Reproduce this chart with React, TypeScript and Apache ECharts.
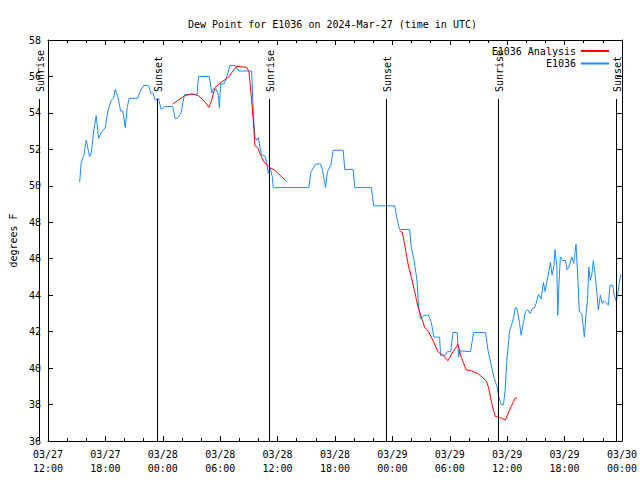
import React, { useEffect, useRef } from "react";
import * as echarts from "echarts";

// hours since 2024-03-27 12:00 UTC
const obsHours = [3.31, 3.47, 3.73, 4.0, 4.35, 4.52, 4.77, 5.04, 5.29, 5.56, 5.98, 6.26, 6.61, 6.86, 7.02, 7.3, 7.59, 7.83, 8.07, 8.28, 8.48, 9.39, 9.57, 9.99, 10.51, 10.78, 10.96, 11.2, 11.55, 11.82, 12.24, 13.04, 13.28, 13.53, 13.91, 14.26, 15.58, 15.73, 16.87, 17.11, 17.29, 17.6, 17.81, 17.92, 18.05, 18.44, 18.68, 19.02, 19.55, 19.96, 20.94, 21.29, 21.46, 21.63, 21.81, 21.99, 22.09, 22.33, 22.68, 22.85, 23.03, 23.2, 23.45, 23.55, 27.27, 27.48, 28.0, 28.49, 28.7, 29.01, 29.22, 29.56, 29.81, 30.86, 31.02, 31.9, 32.07, 33.81, 34.05, 36.24, 36.52, 36.76, 37.81, 37.98, 38.27, 38.58, 38.74, 38.95, 39.31, 39.79, 40.07, 40.35, 40.94, 41.04, 41.53, 41.74, 42.09, 42.34, 42.78, 42.92, 43.07, 44.17, 44.49, 45.74, 45.99, 46.23, 46.61, 46.96, 47.13, 47.38, 47.62, 47.79, 47.97, 48.24, 48.42, 48.7, 48.84, 49.02, 49.29, 49.46, 49.74, 49.91, 50.16, 50.4, 50.68, 50.85, 51.03, 51.27, 51.55, 51.79, 51.97, 52.14, 52.35, 52.52, 52.7, 52.88, 53.01, 53.19, 53.29, 53.4, 53.56, 53.81, 54.09, 54.26, 54.5, 54.75, 54.96, 55.2, 55.38, 55.55, 55.8, 56.07, 56.25, 56.42, 56.53, 56.69, 56.87, 57.01, 57.18, 57.39, 57.53, 57.74, 57.92, 58.16, 58.33, 58.58, 58.75, 59.03, 59.2, 59.38, 59.55, 59.72, 59.9];
const obsValues = [50.2, 51.3, 51.6, 52.5, 51.6, 51.8, 53.0, 53.85, 52.6, 52.9, 53.2, 54.1, 54.7, 54.8, 55.3, 54.9, 54.1, 54.1, 53.2, 54.3, 54.8, 54.8, 55.1, 55.5, 55.5, 55.05, 55.1, 54.7, 54.8, 54.2, 54.35, 54.35, 53.7, 53.7, 54.0, 55.0, 55.0, 56.0, 56.0, 55.1, 55.3, 55.3, 54.95, 54.3, 55.6, 55.6, 56.0, 56.6, 56.6, 56.3, 56.3, 56.3, 54.0, 52.7, 52.5, 52.65, 52.3, 51.7, 51.65, 51.3, 50.7, 51.0, 50.5, 49.9, 49.9, 50.75, 51.2, 51.2, 50.85, 49.9, 50.8, 51.1, 51.95, 51.95, 50.9, 50.9, 49.9, 49.9, 48.9, 48.9, 48.1, 47.6, 47.6, 46.65, 45.9, 44.8, 43.35, 42.7, 42.9, 42.9, 42.5, 41.7, 41.7, 40.7, 40.7, 40.9, 40.9, 41.95, 41.95, 40.6, 40.95, 40.9, 41.95, 41.95, 41.0, 40.4, 39.5, 38.95, 38.4, 38.0, 38.0, 38.8, 40.4, 42.0, 42.3, 42.8, 43.3, 43.3, 42.5, 41.8, 42.6, 43.1, 43.2, 43.0, 43.3, 43.3, 43.55, 44.05, 43.8, 44.7, 44.2, 44.7, 45.3, 45.8, 45.1, 45.6, 46.5, 45.6, 42.9, 44.45, 46.1, 45.9, 45.9, 45.4, 45.6, 46.1, 45.75, 46.8, 45.0, 43.1, 43.0, 41.7, 43.0, 43.9, 45.55, 44.8, 45.2, 45.9, 45.2, 44.1, 43.2, 44.0, 43.55, 43.7, 43.6, 43.45, 44.55, 44.55, 44.0, 43.7, 44.0, 44.7, 45.15];

const anaHours1 = [13.04, 13.64, 14.33, 15.03, 15.73, 16.41, 16.83, 17.11, 17.46, 18.16, 18.86, 19.2, 19.72, 20.77, 21.01, 21.29, 21.46, 21.63, 21.91, 22.26, 22.61, 23.03, 23.72, 24.42, 24.94];
const anaValues1 = [54.5, 54.7, 54.95, 55.05, 54.95, 54.6, 54.3, 54.7, 55.4, 55.7, 55.95, 56.2, 56.55, 56.5, 56.25, 54.7, 53.6, 52.2, 52.1, 51.65, 51.3, 51.05, 50.85, 50.5, 50.25];
const anaHours2 = [36.76, 37.04, 37.28, 37.64, 37.98, 38.33, 38.68, 39.03, 39.37, 39.79, 40.25, 40.77, 41.29, 41.81, 42.34, 42.86, 43.2, 43.72, 44.24, 44.94, 45.81, 46.05, 46.4, 46.75, 47.2, 47.82, 48.24, 48.84, 49.05];
const anaValues2 = [47.5, 47.45, 46.8, 45.7, 45.0, 44.2, 43.35, 42.8, 42.25, 42.0, 41.5, 40.9, 40.7, 40.4, 40.9, 41.3, 40.6, 39.9, 39.85, 39.7, 39.3, 38.95, 38.05, 37.35, 37.3, 37.15, 37.7, 38.35, 38.35];

const sunHours = [-0.94, 11.37, 23.06, 35.37, 47.06, 59.4];
const sunLabels = ["Sunrise", "Sunset", "Sunrise", "Sunset", "Sunrise", "Sunset"];

const tickLabels = ["03/27\n12:00", "03/27\n18:00", "03/28\n00:00", "03/28\n06:00", "03/28\n12:00", "03/28\n18:00", "03/29\n00:00", "03/29\n06:00", "03/29\n12:00", "03/29\n18:00", "03/30\n00:00"];

const FONT = "'DejaVu Sans Mono', 'Liberation Mono', monospace";
const RED = "#ff0000";
const BLUE = "#1a8cff";

export default function App() {
  const ref = useRef<HTMLDivElement>(null);
  useEffect(() => {
    if (!ref.current) return;
    const chart = echarts.init(ref.current, undefined, { renderer: "svg" });
    const obs = obsHours.map((h, i) => [h, obsValues[i]]);
    const ana = [
      ...anaHours1.map((h, i) => [h, anaValues1[i]]),
      [30, null],
      ...anaHours2.map((h, i) => [h, anaValues2[i]]),
    ];
    const xCommon = {
      type: "value",
      min: 0,
      max: 60,
      interval: 6,
      axisLine: { show: true, onZero: false, lineStyle: { color: "#000", width: 1 } },
      axisTick: { show: true, inside: true, length: 5, lineStyle: { color: "#000" } },
      minorTick: { show: true, splitNumber: 3, length: 3, lineStyle: { color: "#000" } },
      splitLine: { show: false },
    };
    const yCommon = {
      type: "value",
      min: 36,
      max: 58,
      interval: 2,
      axisLine: { show: true, onZero: false, lineStyle: { color: "#000", width: 1 } },
      axisTick: { show: true, inside: true, length: 5, lineStyle: { color: "#000" } },
      splitLine: { show: false },
    };
    chart.setOption({
      animation: false,
      backgroundColor: "#fff",
      title: {
        text: "Dew Point for E1036 on 2024-Mar-27 (time in UTC)",
        left: 183,
        top: 14,
        textStyle: { fontFamily: FONT, fontSize: 10, fontWeight: "normal", color: "#000" },
      },
      legend: {
        data: ["E1036 Analysis", "E1036"],
        orient: "vertical",
        right: 25,
        top: 41,
        align: "right",
        itemWidth: 28,
        itemHeight: 12,
        itemGap: 2.5,
        itemStyle: { opacity: 0 },
        textStyle: { fontFamily: FONT, fontSize: 10, color: "#000" },
      },
      grid: { left: 46, right: 18, top: 40, bottom: 39 },
      xAxis: [
        {
          ...xCommon,
          position: "bottom",
          axisLabel: {
            fontFamily: FONT,
            fontSize: 10,
            color: "#000",
            lineHeight: 14,
            margin: 6,
            formatter: (v: number) => tickLabels[Math.round(v / 6)] ?? "",
          },
        },
        { ...xCommon, position: "top", axisLabel: { show: false } },
      ],
      yAxis: [
        {
          ...yCommon,
          position: "left",
          name: "degrees F",
          nameLocation: "middle",
          nameGap: 30,
          nameRotate: 90,
          nameTextStyle: { fontFamily: FONT, fontSize: 10, color: "#000" },
          axisLabel: { fontFamily: FONT, fontSize: 10, color: "#000", margin: 7 },
        },
        { ...yCommon, position: "right", axisLabel: { show: false } },
      ],
      series: [
        {
          name: "E1036 Analysis",
          type: "line",
          data: ana,
          symbol: "none",
          connectNulls: false,
          lineStyle: { color: RED, width: 1 },
          itemStyle: { color: RED },
          z: 3,
        },
        {
          name: "E1036",
          type: "line",
          data: obs,
          symbol: "none",
          lineStyle: { color: BLUE, width: 1 },
          itemStyle: { color: BLUE },
          z: 2,
        },
        {
          name: "sun",
          type: "custom",
          clip: false,
          silent: true,
          data: sunHours.map((h) => [h, 58]),
          renderItem: (params: any, api: any) => {
            const h = api.value(0);
            const top = api.coord([h, 58]);
            const bot = api.coord([h, 36]);
            const x = Math.round(top[0]) + 0.5;
            return {
              type: "group",
              children: [
                {
                  type: "line",
                  shape: { x1: x, y1: top[1] + 59, x2: x, y2: bot[1] },
                  style: { stroke: "#000", lineWidth: 1 },
                },
                {
                  type: "text",
                  x: x + 1,
                  y: top[1] + 52,
                  rotation: Math.PI / 2,
                  style: {
                    text: sunLabels[params.dataIndex],
                    fontFamily: FONT,
                    fontSize: 10,
                    fill: "#000",
                    align: "left",
                    verticalAlign: "middle",
                  },
                },
              ],
            };
          },
          z: 4,
        },
      ],
    });
    return () => chart.dispose();
  }, []);
  return (
    <div
      ref={ref}
      style={{ position: "absolute", left: 0, top: 0, width: 640, height: 480 }}
    />
  );
}
